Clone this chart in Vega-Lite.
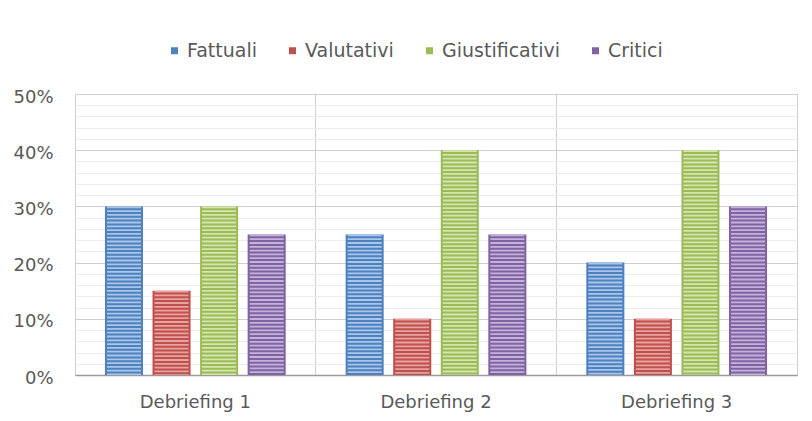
{
  "$schema": "https://vega.github.io/schema/vega-lite/v6.json",
  "width": 722,
  "height": 281,
  "autosize": {"type": "none"},
  "padding": {"left": 75, "top": 94, "right": 15, "bottom": 46},
  "background": "white",
  "config": {
    "font": "DejaVu Sans",
    "view": {"stroke": "#d0d0d0", "strokeWidth": 1},
    "axis": {"labelFont": "DejaVu Sans", "labelColor": "#595959", "labelFontSize": 18, "ticks": false}
  },
  "data": {
    "values": [
      {"cat": "Debriefing 1", "serie": "Fattuali", "v": 0.30},
      {"cat": "Debriefing 1", "serie": "Valutativi", "v": 0.15},
      {"cat": "Debriefing 1", "serie": "Giustificativi", "v": 0.30},
      {"cat": "Debriefing 1", "serie": "Critici", "v": 0.25},
      {"cat": "Debriefing 2", "serie": "Fattuali", "v": 0.25},
      {"cat": "Debriefing 2", "serie": "Valutativi", "v": 0.10},
      {"cat": "Debriefing 2", "serie": "Giustificativi", "v": 0.40},
      {"cat": "Debriefing 2", "serie": "Critici", "v": 0.25},
      {"cat": "Debriefing 3", "serie": "Fattuali", "v": 0.20},
      {"cat": "Debriefing 3", "serie": "Valutativi", "v": 0.10},
      {"cat": "Debriefing 3", "serie": "Giustificativi", "v": 0.40},
      {"cat": "Debriefing 3", "serie": "Critici", "v": 0.30}
    ]
  },
  "encoding": {
    "x": {
      "field": "cat", "type": "nominal", "title": null,
      "scale": {"paddingInner": 0, "paddingOuter": 0},
      "axis": {"bandPosition": 0, "labelAngle": 0, "labelPadding": 18, "grid": true, "gridColor": "#d0d0d0", "domainColor": "#9a9a9a", "domainWidth": 1.5}
    },
    "xOffset": {
      "field": "serie", "type": "nominal",
      "sort": ["Fattuali", "Valutativi", "Giustificativi", "Critici"],
      "scale": {"paddingInner": 0.2, "paddingOuter": 0.63}
    },
    "y": {
      "field": "v", "type": "quantitative", "title": null,
      "scale": {"domain": [0, 0.5], "nice": false},
      "axis": {
        "values": [0, 0.02, 0.04, 0.06, 0.08, 0.1, 0.12, 0.14, 0.16, 0.18, 0.2, 0.22, 0.24, 0.26, 0.28, 0.3, 0.32, 0.34, 0.36, 0.38, 0.4, 0.42, 0.44, 0.46, 0.48, 0.5],
        "labelExpr": "round(datum.value*100) % 10 === 0 ? format(datum.value, '.0%') : ''",
        "gridColor": {"condition": {"test": "round(datum.value*100) % 10 === 0", "value": "#cfcfcf"}, "value": "#ededed"},
        "domain": false,
        "labelPadding": 22,
        "labelFontSize": 18,
        "labelOffset": 3
      }
    }
  },
  "layer": [
    {
      "mark": {"type": "bar"},
      "encoding": {
        "color": {
          "field": "serie", "type": "nominal",
          "sort": ["Fattuali", "Valutativi", "Giustificativi", "Critici"],
          "scale": {"domain": ["Fattuali", "Valutativi", "Giustificativi", "Critici"], "range": ["#4f81bd", "#c0504d", "#9bbb59", "#8064a2"]},
          "legend": {
            "title": null, "orient": "none", "direction": "horizontal",
            "legendX": 90, "legendY": -53,
            "symbolType": "square", "symbolSize": 49, "symbolStrokeWidth": 0,
            "labelFontSize": 19, "labelColor": "#595959", "labelFont": "DejaVu Sans",
            "columnPadding": 26, "labelOffset": 3
          }
        }
      }
    },
    {
      "mark": {"type": "rule", "strokeWidth": 34, "strokeDash": [1.8, 2], "strokeCap": "butt"},
      "encoding": {
        "y2": {"datum": 0},
        "stroke": {
          "field": "serie", "type": "nominal",
          "scale": {"domain": ["Fattuali", "Valutativi", "Giustificativi", "Critici"], "range": ["#a9c6ec", "#e8a3a0", "#d4e6ae", "#c3b2dc"]},
          "legend": null
        }
      }
    }
  ]
}
